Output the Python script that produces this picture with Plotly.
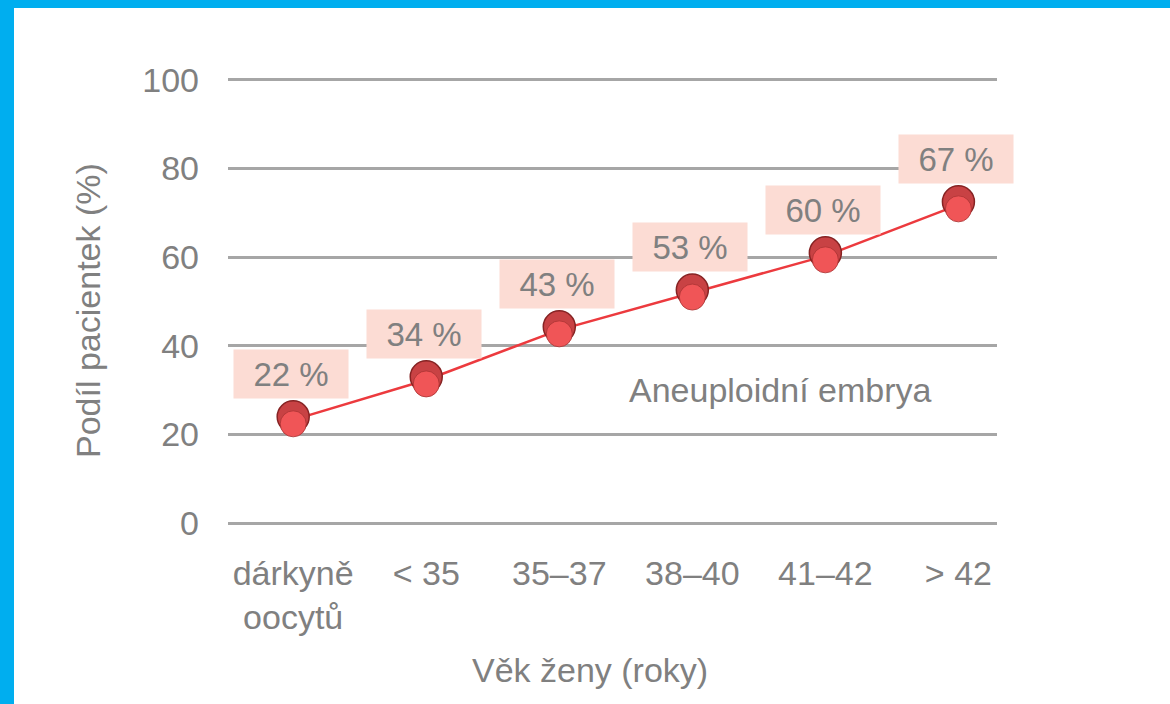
import plotly.graph_objects as go

categories = ["dárkyně<br>oocytů", "< 35", "35–37", "38–40", "41–42", "> 42"]
values = [23.3, 32.3, 43.6, 51.9, 60.3, 71.8]
labels = ["22 %", "34 %", "43 %", "53 %", "60 %", "67 %"]
y_ticks = [0, 20, 40, 60, 80, 100]

xs = list(range(len(categories)))
TXT = "#808080"
FONT = "Liberation Sans, Arial, sans-serif"

W, H = 1170, 704
ml, mr, mt, mb = 228, 173, 71, 172
pw, ph = W - ml - mr, H - mt - mb


def px(xp):
    return (xp - ml) / pw


def py(yp):
    return (H - mb - yp) / ph


fig = go.Figure()
fig.add_trace(go.Scatter(x=xs, y=values, mode="lines",
                         line=dict(color="#ec3a3e", width=2.5),
                         hoverinfo="skip", showlegend=False))
fig.add_trace(go.Scatter(x=xs, y=[v + 0.7 for v in values], mode="markers",
                         marker=dict(size=32, color="#c84244",
                                     line=dict(color="#862323", width=1.5)),
                         showlegend=False))
fig.add_trace(go.Scatter(x=xs, y=[v - 0.9 for v in values], mode="markers",
                         marker=dict(size=26, color="#f05557",
                                     line=dict(color="#a83232", width=0.8)),
                         showlegend=False))

for x, v, t in zip(xs, values, labels):
    fig.add_annotation(x=x, y=v, text=t, showarrow=False, yshift=46, xshift=-2,
                       bgcolor="#fcdcd4", width=112, height=46,
                       font=dict(family=FONT, size=33, color=TXT))

fig.add_annotation(x=px(780), y=py(390), xref="paper", yref="paper",
                   xanchor="center", yanchor="middle",
                   text="Aneuploidní embrya", showarrow=False,
                   font=dict(family=FONT, size=34, color=TXT))
fig.add_annotation(x=px(590), y=py(670), xref="paper", yref="paper",
                   xanchor="center", yanchor="middle",
                   text="Věk ženy (roky)", showarrow=False,
                   font=dict(family=FONT, size=34, color=TXT))
fig.add_annotation(x=px(88), y=py(311), xref="paper", yref="paper",
                   xanchor="center", yanchor="middle",
                   text="Podíl pacientek (%)", showarrow=False, textangle=-90,
                   font=dict(family=FONT, size=34, color=TXT))

fig.update_layout(
    width=W, height=H,
    margin=dict(l=ml, r=mr, t=mt, b=mb, autoexpand=False),
    paper_bgcolor="#00aeef",
    plot_bgcolor="rgba(0,0,0,0)",
    shapes=[dict(type="rect", xref="paper", yref="paper", layer="below",
                 x0=px(14), x1=px(W + 10), y0=py(H + 10), y1=py(8),
                 fillcolor="white", line=dict(width=0))],
)
fig.update_xaxes(range=[-0.49, 5.29], tickmode="array", tickvals=xs, ticktext=categories,
                 showgrid=False, zeroline=False, showline=False, ticks="",
                 ticklabelstandoff=18, automargin=False,
                 tickfont=dict(family=FONT, size=34, color=TXT))
fig.update_yaxes(range=[-2, 102], tickmode="array", tickvals=y_ticks,
                 showgrid=True, gridcolor="#a6a6a6", gridwidth=3,
                 zeroline=False, showline=False, ticks="",
                 ticklabelstandoff=28, automargin=False,
                 tickfont=dict(family=FONT, size=34, color=TXT))

fig.write_html("out.html", config={"displayModeBar": False},
               post_script="document.body.style.margin='0';")
